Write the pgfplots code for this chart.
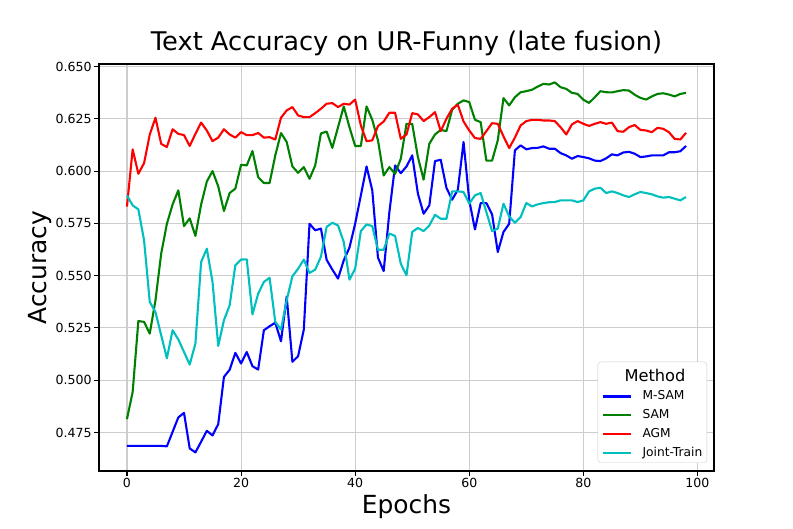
\documentclass[border=0pt]{standalone}
\usepackage{fontspec}
\setmainfont{DejaVu Sans}
\usepackage{pgfplots}
\usepackage{pgfplotstable}
\pgfplotsset{compat=1.18}
\definecolor{mb}{RGB}{0,0,255}
\definecolor{mg}{RGB}{0,128,0}
\definecolor{mr}{RGB}{255,0,0}
\definecolor{mc}{RGB}{0,191,191}
\definecolor{gridc}{RGB}{205,205,205}
\definecolor{legc}{RGB}{204,204,204}

\pgfplotstableread{
ep msam sam agm joint
0 0.4686 0.4814 0.5830 0.5884
1 0.4686 0.4944 0.6104 0.5836
2 0.4686 0.5283 0.5987 0.5817
3 0.4686 0.5279 0.6038 0.5669
4 0.4686 0.5223 0.6175 0.5374
5 0.4686 0.5382 0.6255 0.5326
6 0.4686 0.5605 0.6130 0.5215
7 0.4684 0.5748 0.6115 0.5105
8 0.4753 0.5840 0.6200 0.5239
9 0.4822 0.5908 0.6178 0.5195
10 0.4844 0.5737 0.6172 0.5135
11 0.4674 0.5774 0.6120 0.5075
12 0.4655 0.5690 0.6178 0.5175
13 0.4706 0.5840 0.6232 0.5565
14 0.4758 0.5950 0.6194 0.5629
15 0.4736 0.6000 0.6143 0.5470
16 0.4790 0.5927 0.6160 0.5164
17 0.5016 0.5809 0.6200 0.5287
18 0.5050 0.5895 0.6175 0.5358
19 0.5131 0.5916 0.6160 0.5550
20 0.5080 0.6030 0.6186 0.5577
21 0.5135 0.6027 0.6172 0.5578
22 0.5067 0.6096 0.6172 0.5315
23 0.5051 0.5971 0.6182 0.5414
24 0.5239 0.5943 0.6160 0.5470
25 0.5258 0.5943 0.6162 0.5490
26 0.5275 0.6075 0.6151 0.5279
27 0.5186 0.6182 0.6255 0.5242
28 0.5400 0.6139 0.6290 0.5382
29 0.5088 0.6022 0.6306 0.5497
30 0.5115 0.5992 0.6266 0.5533
31 0.5242 0.6019 0.6258 0.5577
32 0.5748 0.5963 0.6258 0.5513
33 0.5717 0.6027 0.6277 0.5529
34 0.5725 0.6180 0.6298 0.5590
35 0.5576 0.6189 0.6322 0.5733
36 0.5529 0.6111 0.6325 0.5753
37 0.5486 0.6210 0.6306 0.5740
38 0.5573 0.6309 0.6322 0.5661
39 0.5634 0.6210 0.6318 0.5481
40 0.5748 0.6120 0.6342 0.5533
41 0.5884 0.6120 0.6218 0.5713
42 0.6022 0.6309 0.6143 0.5745
43 0.5908 0.6245 0.6147 0.5737
44 0.5586 0.6147 0.6215 0.5624
45 0.5522 0.5979 0.6237 0.5624
46 0.5804 0.6019 0.6279 0.5701
47 0.6027 0.5987 0.6279 0.5690
48 0.5990 0.6059 0.6154 0.5557
49 0.6022 0.6226 0.6175 0.5502
50 0.6075 0.6226 0.6277 0.5709
51 0.5892 0.6067 0.6271 0.5728
52 0.5796 0.5959 0.6239 0.5713
53 0.5836 0.6131 0.6258 0.5740
54 0.6048 0.6175 0.6282 0.5791
55 0.6054 0.6197 0.6191 0.5772
56 0.5920 0.6191 0.6250 0.5772
57 0.5863 0.6293 0.6298 0.5903
58 0.5911 0.6322 0.6317 0.5903
59 0.6139 0.6338 0.6237 0.5900
60 0.5860 0.6330 0.6194 0.5844
61 0.5721 0.6245 0.6158 0.5884
62 0.5847 0.6234 0.6154 0.5895
63 0.5847 0.6050 0.6191 0.5804
64 0.5793 0.6050 0.6229 0.5713
65 0.5613 0.6147 0.6226 0.5725
66 0.5709 0.6349 0.6166 0.5844
67 0.5748 0.6314 0.6110 0.5783
68 0.6099 0.6353 0.6160 0.5753
69 0.6123 0.6377 0.6218 0.5780
70 0.6104 0.6382 0.6239 0.5847
71 0.6110 0.6389 0.6245 0.5831
72 0.6111 0.6404 0.6245 0.5841
73 0.6118 0.6417 0.6242 0.5847
74 0.6107 0.6414 0.6242 0.5851
75 0.6107 0.6424 0.6239 0.5852
76 0.6086 0.6401 0.6210 0.5860
77 0.6075 0.6393 0.6175 0.5860
78 0.6059 0.6374 0.6223 0.5860
79 0.6072 0.6369 0.6239 0.5852
80 0.6067 0.6341 0.6226 0.5860
81 0.6061 0.6326 0.6216 0.5903
82 0.6050 0.6353 0.6226 0.5916
83 0.6048 0.6382 0.6234 0.5920
84 0.6061 0.6377 0.6226 0.5895
85 0.6080 0.6376 0.6232 0.5903
86 0.6075 0.6382 0.6191 0.5895
87 0.6089 0.6387 0.6188 0.5884
88 0.6092 0.6385 0.6210 0.5876
89 0.6083 0.6365 0.6220 0.5889
90 0.6067 0.6350 0.6197 0.5900
91 0.6070 0.6342 0.6194 0.5895
92 0.6075 0.6357 0.6186 0.5889
93 0.6075 0.6369 0.6207 0.5879
94 0.6075 0.6372 0.6202 0.5873
95 0.6090 0.6366 0.6186 0.5876
96 0.6090 0.6357 0.6154 0.5868
97 0.6095 0.6369 0.6151 0.5860
98 0.6120 0.6374 0.6183 0.5876
}\datatable

\begin{document}
\begin{tikzpicture}
\useasboundingbox (-99bp,-58bp) rectangle (694bp,471bp);
\begin{axis}[
  at={(0,0)}, anchor=south west,
  scale only axis, width=615bp, height=407bp,
  xmin=-4.9, xmax=102.9, ymin=0.4566, ymax=0.6512,
  xtick={0,20,40,60,80,100},
  ytick={0.475,0.500,0.525,0.550,0.575,0.600,0.625,0.650},
  yticklabel style={/pgf/number format/fixed, /pgf/number format/fixed zerofill, /pgf/number format/precision=3},
  /pgf/number format/assume math mode=true,
  grid=major,
  major grid style={color=gridc, line width=1.1bp},
  tick align=outside, tick pos=left,
  major tick length=4.9bp,
  every tick/.style={black, line width=1.1bp},
  axis line style={black, line width=1.1bp},
  ticklabel style={font=\fontsize{12.6}{15}\selectfont},
  xticklabel style={anchor=base, inner sep=0pt, yshift=-11.4bp},
  yticklabel style={anchor=east, inner sep=0pt, xshift=-2.4bp},
  title={Text Accuracy on UR-Funny (late fusion)},
  title style={font=\fontsize{25.8}{30}\selectfont, at={(axis description cs:0.5,1)}, anchor=base, yshift=8bp},
  xlabel={Epochs},
  xlabel style={font=\fontsize{25}{30}\selectfont, at={(axis description cs:0.5,-0.1032)}, anchor=base},
  ylabel={Accuracy},
  ylabel style={font=\fontsize{25}{30}\selectfont, at={(axis description cs:-0.0846,0.5)}, anchor=base},
  legend cell align=left,
  legend image code/.code={\draw[#1] (0bp,0bp) -- (28bp,0bp);},
  legend style={at={(1,0)}, anchor=south east, xshift=-7bp, yshift=8bp,
    draw=legc, rounded corners=3bp, fill=white,
    font=\fontsize{12.3}{14}\selectfont,
    nodes={inner sep=0pt, text height=9.5bp, text depth=2.6bp},
    row sep=6.8bp, column sep=10bp,
    inner xsep=4.5bp, inner ysep=3.6bp},
  every axis plot/.append style={line width=2.1bp, line join=round},
]
\addlegendimage{empty legend}
\addlegendentry[text height=15.5bp, font=\fontsize{16.3}{19}\selectfont]{\hspace*{-18bp}Method}
\addplot[color=mb] table[x=ep, y=msam] {\datatable};
\addlegendentry{M-SAM}
\addplot[color=mg] table[x=ep, y=sam] {\datatable};
\addlegendentry{SAM}
\addplot[color=mr] table[x=ep, y=agm] {\datatable};
\addlegendentry{AGM}
\addplot[color=mc] table[x=ep, y=joint] {\datatable};
\addlegendentry{Joint-Train}
\end{axis}
\end{tikzpicture}
\end{document}
